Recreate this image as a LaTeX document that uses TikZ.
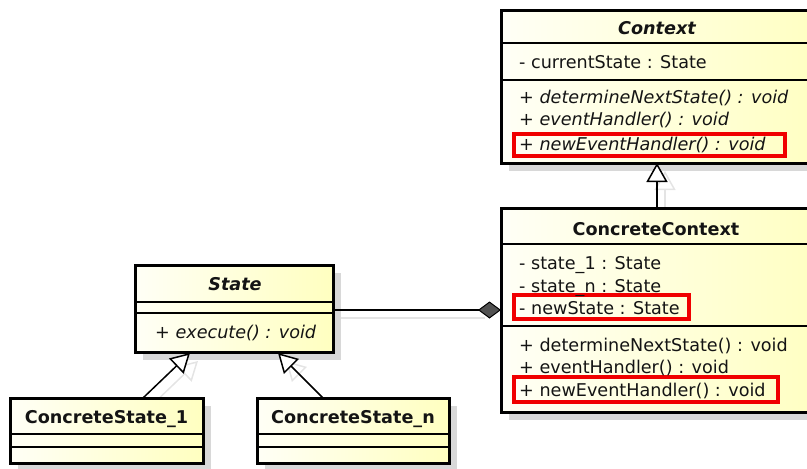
\documentclass[tikz,border=0pt]{standalone}
\usepackage{fontspec}
\setmainfont{DejaVu Sans}
\usetikzlibrary{arrows.meta,calc,shadows}
\definecolor{boxL}{RGB}{255,255,246}
\definecolor{boxR}{RGB}{255,255,192}
\definecolor{shd}{RGB}{216,216,216}
\definecolor{cshd}{RGB}{228,228,228}
\definecolor{txt}{RGB}{20,20,20}
\definecolor{hl}{RGB}{240,0,0}
\begin{document}
\begin{tikzpicture}[x=1pt,y=-1pt,
  font=\fontsize{17.6}{21}\selectfont,
  classbox/.style={draw=black,line width=3pt,inner sep=0pt,outer sep=0pt,
    anchor=north west,left color=boxL,right color=boxR,
    drop shadow={shadow xshift=8pt,shadow yshift=-8pt,fill=shd,opacity=1}},
  sepline/.style={draw=black,line width=1.4pt},
  member/.style={anchor=base west,inner sep=0pt,text=txt},
  title/.style={anchor=base,inner sep=0pt,text=txt,font=\fontsize{17.6}{21}\selectfont\bfseries},
  hlbox/.style={draw=hl,line width=4pt},
  inherit/.style={draw=black,line width=1.5pt,-{Triangle[open,length=19pt,width=21pt,fill=white,line width=1.5pt]}},
  inheritshadow/.style={draw=cshd,line width=1.5pt,-{Triangle[open,length=19pt,width=21pt,line width=1.5pt]}},
  compose/.style={draw=black,line width=1.5pt,-{Diamond[length=23pt,width=17pt,fill=black!68,line width=1pt]}},
  composeshadow/.style={draw=cshd,line width=1.5pt}]
\useasboundingbox (0,0) rectangle (807,469);
\begin{scope}
\clip (0,0) rectangle (807,469);

% ---- connector anchor points ----
\coordinate (ctxB) at (657,163);
\coordinate (cctxT0) at (657,208);
\coordinate (csTop) at (143,398);
\coordinate (stTip1) at (190,353);
\coordinate (cnTop) at (323,398);
\coordinate (stTip2) at (278,353);
\coordinate (compS) at (333,310);

% ---- connector shadows ----
\draw[inheritshadow] ($(cctxT0)+(8,8)$) -- ($(ctxB)+(8,8)$);
\draw[inheritshadow] ($(csTop)+(8,8)$) -- ($(stTip1)+(8,8)$);
\draw[inheritshadow] ($(cnTop)+(8,8)$) -- ($(stTip2)+(8,8)$);
\draw[composeshadow] ($(compS)+(8,8)$) -- (485,318);

% ---- boxes ----
\node[classbox,minimum width=330pt,minimum height=153pt] (ctx) at (501,10) {};
\node[classbox,minimum width=330pt,minimum height=204pt] (cctx) at (501,208) {};
\node[classbox,minimum width=198pt,minimum height=87pt] (state) at (135,265) {};
\node[classbox,minimum width=193pt,minimum height=65pt] (cs1) at (10,398) {};
\node[classbox,minimum width=192pt,minimum height=65pt] (csn) at (257,398) {};

% ---- separators ----
\path[sepline] ($(ctx.north west)+(0,33)$) -- ($(ctx.north east)+(0,33)$);
\path[sepline] ($(ctx.north west)+(0,70)$) -- ($(ctx.north east)+(0,70)$);
\path[sepline] ($(cctx.north west)+(0,36)$) -- ($(cctx.north east)+(0,36)$);
\path[sepline] ($(cctx.north west)+(0,118)$) -- ($(cctx.north east)+(0,118)$);
\path[sepline] ($(state.north west)+(0,37)$) -- ($(state.north east)+(0,37)$);
\path[sepline] ($(state.north west)+(0,48)$) -- ($(state.north east)+(0,48)$);
\path[sepline] ($(cs1.north west)+(0,36)$) -- ($(cs1.north east)+(0,36)$);
\path[sepline] ($(cs1.north west)+(0,49)$) -- ($(cs1.north east)+(0,49)$);
\path[sepline] ($(csn.north west)+(0,36)$) -- ($(csn.north east)+(0,36)$);
\path[sepline] ($(csn.north west)+(0,49)$) -- ($(csn.north east)+(0,49)$);

% ---- highlight boxes ----
\draw[hlbox] (514,134) rectangle (785,156);
\draw[hlbox] (514,295) rectangle (689,319);
\draw[hlbox] (514,377) rectangle (778,402);

% ---- texts ----
\node[title,font=\fontsize{17.6}{21}\selectfont\bfseries\itshape] (ctxT) at (657,34) {Context};
\node[member] (ctxA1) at (519,68) {- currentState : State};
\node[member,font=\fontsize{17.6}{21}\selectfont\itshape] (ctxM1) at (519,103) {+ determineNextState() : void};
\node[member,font=\fontsize{17.6}{21}\selectfont\itshape] (ctxM2) at (519,125) {+ eventHandler() : void};
\node[member,font=\fontsize{17.6}{21}\selectfont\itshape] (ctxM3) at (519,150) {+ newEventHandler() : void};

\node[title] (cctxT) at (656,235) {ConcreteContext};
\node[member] (cctxA1) at (519,269) {- state\_1 : State};
\node[member] (cctxA2) at (519,292) {- state\_n : State};
\node[member] (cctxA3) at (519,314) {- newState : State};
\node[member] (cctxM1) at (519,351) {+ determineNextState() : void};
\node[member] (cctxM2) at (519,373) {+ eventHandler() : void};
\node[member] (cctxM3) at (519,396) {+ newEventHandler() : void};

\node[title,font=\fontsize{17.6}{21}\selectfont\bfseries\itshape] (stateT) at (235,290) {State};
\node[member,font=\fontsize{17.6}{21}\selectfont\itshape] (stateM1) at (155,338) {+ execute() : void};

\node[title] (cs1T) at (106.5,423) {ConcreteState\_1};
\node[title] (csnT) at (353,423) {ConcreteState\_n};

% ---- connectors ----
\draw[inherit] (cctxT0) -- (ctxB);
\draw[inherit] (csTop) -- (stTip1);
\draw[inherit] (cnTop) -- (stTip2);
\draw[compose] (compS) -- (cctx.west |- compS);
\end{scope}
\end{tikzpicture}
\end{document}
